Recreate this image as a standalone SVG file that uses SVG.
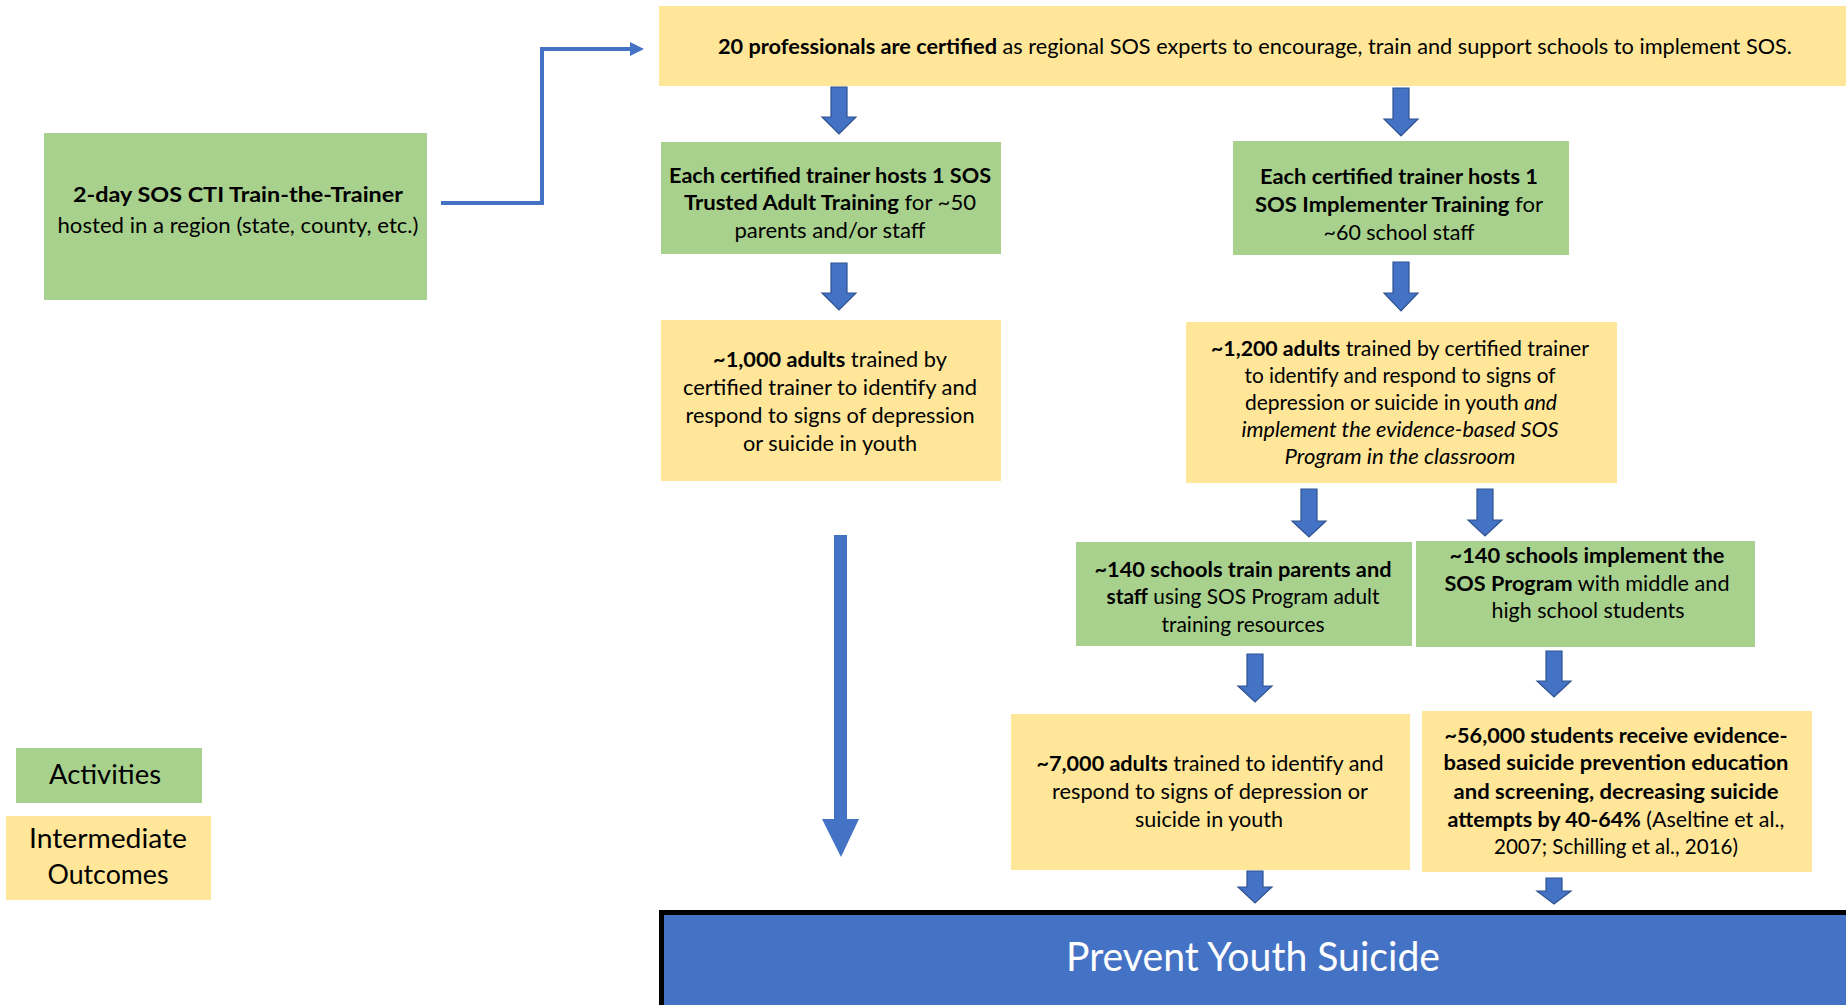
<svg xmlns="http://www.w3.org/2000/svg" width="1846" height="1005" viewBox="0 0 1846 1005">
<style>
  .g { fill: #A9D18E; }
  .y { fill: #FFE699; }
  .t { font-family: "Lato", "Open Sans", "Liberation Sans", sans-serif; font-size: 21px; fill: #000; text-anchor: middle; }
  .b { font-weight: bold; }
  .i { font-style: italic; }
  .lg { font-size: 26px; }
  .big { font-size: 40px; fill: #ffffff; }
  .h1 { font-size: 21.5px; }
  .arr { fill: #4472C4; stroke: #2F528F; stroke-width: 1.2; }
  .conn { fill: none; stroke: #4472C4; stroke-width: 4; }
</style>
<rect width="1846" height="1005" fill="#ffffff"/>

<g id="connectors">
  <polyline class="conn" points="441,203 542,203 542,49 632,49"/>
  <polygon points="630,42 644,49 630,56" fill="#4472C4"/>
  <path class="arr" d="M831,87 H847 V117 H856 L839,134 L822,117 H831 Z"/>
  <path class="arr" d="M1393,88 H1409 V119 H1418 L1401,136 L1384,119 H1393 Z"/>
  <path class="arr" d="M831,263 H847 V293 H856 L839,310 L822,293 H831 Z"/>
  <path class="arr" d="M1393,262 H1409 V293 H1418 L1401,311 L1384,293 H1393 Z"/>
  <path class="arr" d="M1301,489 H1317 V521 H1326 L1309,537 L1292,521 H1301 Z"/>
  <path class="arr" d="M1477,489 H1493 V520 H1502 L1485,536 L1468,520 H1477 Z"/>
  <path class="arr" d="M1247,654 H1263 V686 H1272 L1255,702 L1238,686 H1247 Z"/>
  <path class="arr" d="M1546,651 H1562 V681 H1571 L1554,697 L1537,681 H1546 Z"/>
  <path class="arr" d="M1247,871 H1263 V887 H1272 L1255,903 L1238,887 H1247 Z"/>
  <path class="arr" d="M1546,878 H1562 V891 H1571 L1554,904 L1537,891 H1546 Z"/>
  <path d="M834,535 H847 V819 H859 L841,857 L822,819 H834 Z" fill="#4472C4"/>
</g>

<g id="n-train-the-trainer">
  <rect class="g" x="44" y="133" width="383" height="167"/>
  <text class="t b h1" x="238" y="202" textLength="330" lengthAdjust="spacingAndGlyphs">2-day SOS CTI Train-the-Trainer</text>
  <text class="t h1" x="238" y="233" textLength="361" lengthAdjust="spacingAndGlyphs">hosted in a region (state, county, etc.)</text>
</g>

<g id="n-professionals">
  <rect class="y" x="659" y="6" width="1187" height="80"/>
  <text class="t" x="1255" y="54" textLength="1074" lengthAdjust="spacingAndGlyphs"><tspan class="b">20 professionals are certified</tspan> as regional SOS experts to encourage, train and support schools to implement SOS.</text>
</g>

<g id="n-trusted-adult">
  <rect class="g" x="661" y="142" width="340" height="112"/>
  <text class="t b" x="830" y="183" textLength="322" lengthAdjust="spacingAndGlyphs">Each certified trainer hosts 1 SOS</text>
  <text class="t" x="830" y="210" textLength="292" lengthAdjust="spacingAndGlyphs"><tspan class="b">Trusted Adult Training</tspan> for ~50</text>
  <text class="t" x="830" y="238" textLength="191" lengthAdjust="spacingAndGlyphs">parents and/or staff</text>
</g>

<g id="n-implementer">
  <rect class="g" x="1233" y="141" width="336" height="114"/>
  <text class="t b" x="1399" y="184" textLength="278" lengthAdjust="spacingAndGlyphs">Each certified trainer hosts 1</text>
  <text class="t" x="1399" y="212" textLength="288" lengthAdjust="spacingAndGlyphs"><tspan class="b">SOS Implementer Training</tspan> for</text>
  <text class="t" x="1399" y="240" textLength="151" lengthAdjust="spacingAndGlyphs">~60 school staff</text>
</g>

<g id="n-1000-adults">
  <rect class="y" x="661" y="320" width="340" height="161"/>
  <text class="t" x="830" y="367" textLength="234" lengthAdjust="spacingAndGlyphs"><tspan class="b">~1,000 adults</tspan> trained by</text>
  <text class="t" x="830" y="395" textLength="294" lengthAdjust="spacingAndGlyphs">certified trainer to identify and</text>
  <text class="t" x="830" y="423" textLength="289" lengthAdjust="spacingAndGlyphs">respond to signs of depression</text>
  <text class="t" x="830" y="451" textLength="174" lengthAdjust="spacingAndGlyphs">or suicide in youth</text>
</g>

<g id="n-1200-adults">
  <rect class="y" x="1186" y="322" width="431" height="161"/>
  <text class="t" x="1400" y="356" textLength="378" lengthAdjust="spacingAndGlyphs"><tspan class="b">~1,200 adults</tspan> trained by certified trainer</text>
  <text class="t" x="1400" y="383" textLength="311" lengthAdjust="spacingAndGlyphs">to identify and respond to signs of</text>
  <text class="t" x="1401" y="410" textLength="312" lengthAdjust="spacingAndGlyphs">depression or suicide in youth <tspan class="i">and</tspan></text>
  <text class="t i" x="1400" y="437" textLength="317" lengthAdjust="spacingAndGlyphs">implement the evidence-based SOS</text>
  <text class="t i" x="1400" y="464" textLength="231" lengthAdjust="spacingAndGlyphs">Program in the classroom</text>
</g>

<g id="n-140-train">
  <rect class="g" x="1076" y="542" width="336" height="104"/>
  <text class="t b" x="1243" y="577" textLength="297" lengthAdjust="spacingAndGlyphs">~140 schools train parents and</text>
  <text class="t" x="1243" y="604" textLength="273" lengthAdjust="spacingAndGlyphs"><tspan class="b">staff</tspan> using SOS Program adult</text>
  <text class="t" x="1243" y="632" textLength="163" lengthAdjust="spacingAndGlyphs">training resources</text>
</g>

<g id="n-140-implement">
  <rect class="g" x="1416" y="541" width="339" height="106"/>
  <text class="t b" x="1587" y="563" textLength="275" lengthAdjust="spacingAndGlyphs">~140 schools implement the</text>
  <text class="t" x="1587" y="591" textLength="285" lengthAdjust="spacingAndGlyphs"><tspan class="b">SOS Program</tspan> with middle and</text>
  <text class="t" x="1588" y="618" textLength="193" lengthAdjust="spacingAndGlyphs">high school students</text>
</g>

<g id="n-7000-adults">
  <rect class="y" x="1011" y="714" width="399" height="156"/>
  <text class="t" x="1210" y="771" textLength="347" lengthAdjust="spacingAndGlyphs"><tspan class="b">~7,000 adults</tspan> trained to identify and</text>
  <text class="t" x="1210" y="799" textLength="316" lengthAdjust="spacingAndGlyphs">respond to signs of depression or</text>
  <text class="t" x="1209" y="827" textLength="148" lengthAdjust="spacingAndGlyphs">suicide in youth</text>
</g>

<g id="n-56000-students">
  <rect class="y" x="1422" y="711" width="390" height="161"/>
  <text class="t b" x="1616" y="743" textLength="343" lengthAdjust="spacingAndGlyphs">~56,000 students receive evidence-</text>
  <text class="t b" x="1616" y="770" textLength="345" lengthAdjust="spacingAndGlyphs">based suicide prevention education</text>
  <text class="t b" x="1616" y="799" textLength="325" lengthAdjust="spacingAndGlyphs">and screening, decreasing suicide</text>
  <text class="t" x="1616" y="827" textLength="337" lengthAdjust="spacingAndGlyphs"><tspan class="b">attempts by 40-64%</tspan> (Aseltine et al.,</text>
  <text class="t" x="1616" y="854" textLength="244" lengthAdjust="spacingAndGlyphs">2007; Schilling et al., 2016)</text>
</g>

<g id="n-prevent">
  <rect x="661.5" y="912.5" width="1200" height="200" fill="#4472C4" stroke="#000" stroke-width="5"/>
  <text class="t big" x="1253" y="971" textLength="374" lengthAdjust="spacingAndGlyphs">Prevent Youth Suicide</text>
</g>

<g id="legend-activities">
  <rect class="g" x="16" y="748" width="186" height="55"/>
  <text class="t lg" x="105" y="784" textLength="112" lengthAdjust="spacingAndGlyphs">Activities</text>
</g>

<g id="legend-outcomes">
  <rect class="y" x="6" y="816" width="205" height="84"/>
  <text class="t lg" x="108" y="848" textLength="158" lengthAdjust="spacingAndGlyphs">Intermediate</text>
  <text class="t lg" x="108" y="884" textLength="121" lengthAdjust="spacingAndGlyphs">Outcomes</text>
</g>
</svg>
